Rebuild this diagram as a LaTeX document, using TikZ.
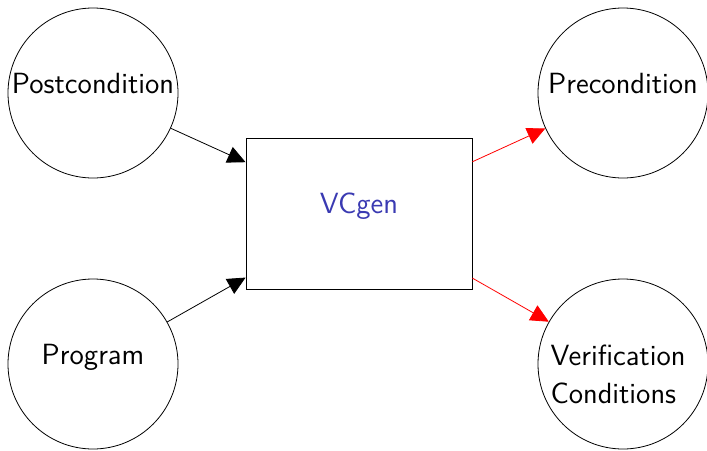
\documentclass[tikz,border=0pt]{standalone}
\usepackage{tikz}
\usetikzlibrary{arrows.meta}

\definecolor{vcblue}{RGB}{58,58,178}
\newcommand{\diafont}{\sffamily\fontsize{14.6pt}{19pt}\selectfont}

\tikzset{
  ball/.style={draw, circle, minimum size=85pt, inner sep=-0.5pt, font=\diafont},
  oneline/.style={text height=1.1ex, text depth=1.1ex},
  gen/.style={draw, rectangle, minimum width=113pt, minimum height=75.5pt, font=\diafont, text=vcblue},
  tip/.style={-{Triangle[length=9pt,width=8.5pt]}}
}

\begin{document}
\begin{tikzpicture}[x=0.5pt, y=-0.5pt]
   \useasboundingbox (0,0) rectangle (707,450);

   \node(VC)[gen, oneline] at (359,213.5) {VCgen};

   \node(Post)[ball, oneline] at (93,93) {Postcondition};
   \node(Prog)[ball, oneline] at (93,364) {Program};

   \node(Pre)[ball, oneline] at (623,93) {Precondition};
   \node(VCs)[ball] at (623,364) {};
   \node(NVCs)[font=\diafont, align=left, inner sep=0pt] at ([xshift=-2.5pt, yshift=-5pt]VCs.center) {Verification\\Conditions};

   \draw[tip] (Post) -- (VC);
   \draw[tip] (Prog) -- (VC);

   \draw[tip, red] (VC) -- (Pre);
   \draw[tip, red] (VC) -- (VCs);
  \end{tikzpicture}
\end{document}
